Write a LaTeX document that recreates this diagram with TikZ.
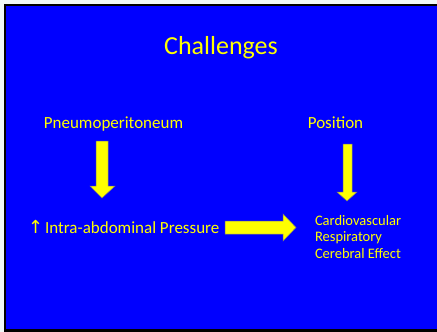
\documentclass[tikz,border=0pt]{standalone}
\usepackage{fontspec}
\setmainfont{Carlito}
\newfontfamily\symfont{DejaVu Sans}
\definecolor{slideblue}{RGB}{0,0,255}
\definecolor{slideyellow}{RGB}{255,255,0}
\definecolor{pagebg}{RGB}{240,248,248}
\definecolor{arrowedge}{RGB}{128,128,110}
\tikzset{
  txt/.style={text=slideyellow, inner sep=0pt, outer sep=0pt},
  blockarrow/.style={fill=slideyellow, draw=arrowedge, line width=0.5pt, line join=miter},
}
\begin{document}
\begin{tikzpicture}[x=1pt,y=-1pt]
\useasboundingbox (0,0) rectangle (437,332);
\fill[pagebg] (-3,-3) rectangle (440,335);
\fill[slideblue] (6,6) rectangle (440,329);
\fill[black] (4,4) rectangle (440,6);
\fill[black] (4,4) rectangle (6,335);
\fill[black] (4,329) rectangle (440,335);
% title
\node[txt, anchor=base, font=\fontsize{26}{31}\selectfont] (title) at (221,54) {Challenges};
% labels
\node[txt, anchor=base, font=\fontsize{17}{20}\selectfont] (pneu) at (113.5,128) {Pneumoperitoneum};
\node[txt, anchor=base, font=\fontsize{17}{20}\selectfont] (pos) at (335.5,128) {Position};
\node[txt, anchor=base west, font=\fontsize{17}{20}\selectfont] (iap) at (28,233) {{\symfont\fontsize{18}{20}\selectfont ↑}\hspace{2pt}Intra-abdominal Pressure};
\node[txt, anchor=base west, font=\fontsize{14.5}{16.5}\selectfont] (eff1) at (315,225) {Cardiovascular};
\node[txt, anchor=base west, font=\fontsize{14.5}{16.5}\selectfont] (eff2) at (315,241.5) {Respiratory};
\node[txt, anchor=base west, font=\fontsize{14.5}{16.5}\selectfont] (eff3) at (315,258) {Cerebral Effect};
% block arrows
\draw[blockarrow] (96,141) -- (108,141) -- (108,186) -- (115,186) -- (102,198) -- (90,186) -- (96,186) -- cycle;
\draw[blockarrow] (343,144) -- (352,144) -- (352,192) -- (357,192) -- (347,201) -- (337,192) -- (343,192) -- cycle;
\draw[blockarrow] (225,221) -- (283,221) -- (283,214) -- (296,227.5) -- (283,241) -- (283,234) -- (225,234) -- cycle;
\end{tikzpicture}
\end{document}
